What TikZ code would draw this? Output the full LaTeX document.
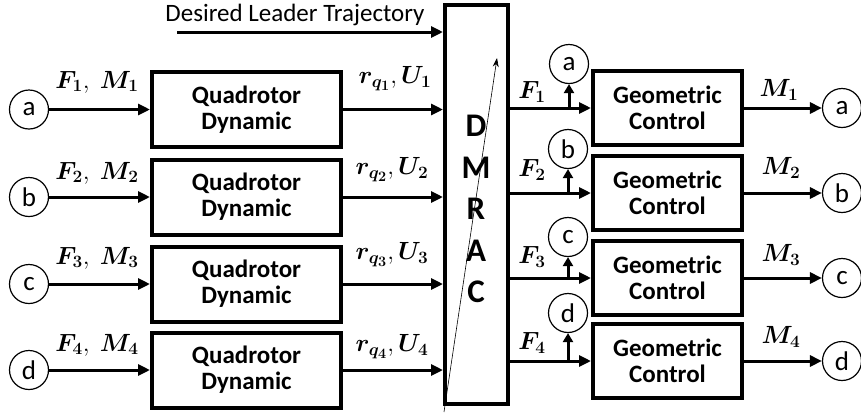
\documentclass[tikz,border=0pt]{standalone}
\usepackage{fontspec}
\setmainfont{Carlito}
\usepackage{amsmath}
\usetikzlibrary{arrows.meta}
\begin{document}
\begin{tikzpicture}[x=1pt,y=-1pt,
  qbox/.style={draw,line width=4pt,minimum width=189pt,minimum height=75pt,inner sep=0pt,align=center,font=\fontsize{25}{26}\selectfont\bfseries},
  gbox/.style={draw,line width=4pt,minimum width=149pt,minimum height=74pt,inner sep=0pt,align=center,font=\fontsize{25}{26}\selectfont\bfseries},
  sig/.style={draw,circle,line width=1.2pt,minimum size=39pt,inner sep=0pt,font=\fontsize{27}{27}\selectfont},
  arr/.style={line width=3pt,-{Triangle[length=12pt,width=11pt]}},
  uarr/.style={line width=3pt,-{Triangle[length=9pt,width=10pt]}},
  lbl/.style={inner sep=0pt,font=\fontsize{27}{27}\selectfont}
]
\useasboundingbox (0,0) rectangle (861,416);
% DMRAC
\node[draw,line width=4pt,minimum width=63pt,minimum height=399pt,inner sep=0pt] (dm) at (476.5,204.5) {};
\node[inner sep=0pt,align=center,font=\fontsize{33}{41.5}\selectfont\bfseries] (dmt) at (476,209) {D\\M\\R\\A\\C};
\coordinate (vs) at (444,412);
\coordinate (ve) at (497,58);
\draw[line width=0.6pt,-{Stealth[length=9pt,width=6pt]}] (vs) -- (ve);
% desired trajectory
\coordinate (dl) at (177,32);
\draw[arr] (dl) -- (dl -| dm.west);
\node[inner sep=0pt,font=\fontsize{25}{25}\selectfont] (dlt) at (295,15) {Desired Leader Trajectory};
% quadrotor boxes
\node[qbox] (q1) at (246.5,109.5) {Quadrotor\\Dynamic};
\node[qbox] (q2) at (246.5,197) {Quadrotor\\Dynamic};
\node[qbox] (q3) at (246.5,284) {Quadrotor\\Dynamic};
\node[qbox] (q4) at (246.5,370) {Quadrotor\\Dynamic};
% left circles
\node[sig] (la) at (29,109.5) {a};
\node[sig] (lb) at (29,197) {b};
\node[sig] (lc) at (29,284) {c};
\node[sig] (ld) at (29,370) {d};
\draw[arr] (la) -- (q1);
\draw[arr] (lb) -- (q2);
\draw[arr] (lc) -- (q3);
\draw[arr] (ld) -- (q4);
\draw[arr] (q1.east) -- (q1.east -| dm.west);
\draw[arr] (q2.east) -- (q2.east -| dm.west);
\draw[arr] (q3.east) -- (q3.east -| dm.west);
\draw[arr] (q4.east) -- (q4.east -| dm.west);
\node[lbl] (lf1) at (97,82) {$\boldsymbol{F_1},\ \boldsymbol{M_1}$};
\node[lbl] (lf2) at (97,173) {$\boldsymbol{F_2},\ \boldsymbol{M_2}$};
\node[lbl] (lf3) at (97,258) {$\boldsymbol{F_3},\ \boldsymbol{M_3}$};
\node[lbl] (lf4) at (97,345) {$\boldsymbol{F_4},\ \boldsymbol{M_4}$};
\node[lbl] (lr1) at (395,79) {$\boldsymbol{r_{q_1}},\boldsymbol{U_1}$};
\node[lbl] (lr2) at (392,170) {$\boldsymbol{r_{q_2}},\boldsymbol{U_2}$};
\node[lbl] (lr3) at (392,255) {$\boldsymbol{r_{q_3}},\boldsymbol{U_3}$};
\node[lbl] (lr4) at (392,347) {$\boldsymbol{r_{q_4}},\boldsymbol{U_4}$};
% geometric boxes
\node[gbox] (g1) at (667.5,108) {Geometric\\Control};
\node[gbox] (g2) at (667.5,193) {Geometric\\Control};
\node[gbox] (g3) at (667.5,278) {Geometric\\Control};
\node[gbox] (g4) at (667.5,361) {Geometric\\Control};
\draw[arr] (g1.west -| dm.east) -- (g1.west);
\draw[arr] (g2.west -| dm.east) -- (g2.west);
\draw[arr] (g3.west -| dm.east) -- (g3.west);
\draw[arr] (g4.west -| dm.east) -- (g4.west);
% upper circles
\node[sig] (ua) at (569,64) {a};
\node[sig] (ub) at (568,149) {b};
\node[sig] (uc) at (568,237) {c};
\node[sig] (ud) at (568,313) {d};
\draw[uarr] (ua.south |- g1.west) -- (ua.south);
\draw[uarr] (ub.south |- g2.west) -- (ub.south);
\draw[uarr] (uc.south |- g3.west) -- (uc.south);
\draw[uarr] (ud.south |- g4.west) -- (ud.south);
\node[lbl] (rf1) at (532,92) {$\boldsymbol{F_1}$};
\node[lbl] (rf2) at (532,170) {$\boldsymbol{F_2}$};
\node[lbl] (rf3) at (532,257) {$\boldsymbol{F_3}$};
\node[lbl] (rf4) at (532,343) {$\boldsymbol{F_4}$};
% right circles
\node[sig] (ra) at (842,108) {a};
\node[sig] (rb) at (842,193) {b};
\node[sig] (rc) at (842,278) {c};
\node[sig] (rd) at (842,361) {d};
\draw[arr] (g1) -- (ra);
\draw[arr] (g2) -- (rb);
\draw[arr] (g3) -- (rc);
\draw[arr] (g4) -- (rd);
\node[lbl] (rm1) at (779,90) {$\boldsymbol{M_1}$};
\node[lbl] (rm2) at (781,168) {$\boldsymbol{M_2}$};
\node[lbl] (rm3) at (781,255) {$\boldsymbol{M_3}$};
\node[lbl] (rm4) at (781,337) {$\boldsymbol{M_4}$};
\end{tikzpicture}
\end{document}
